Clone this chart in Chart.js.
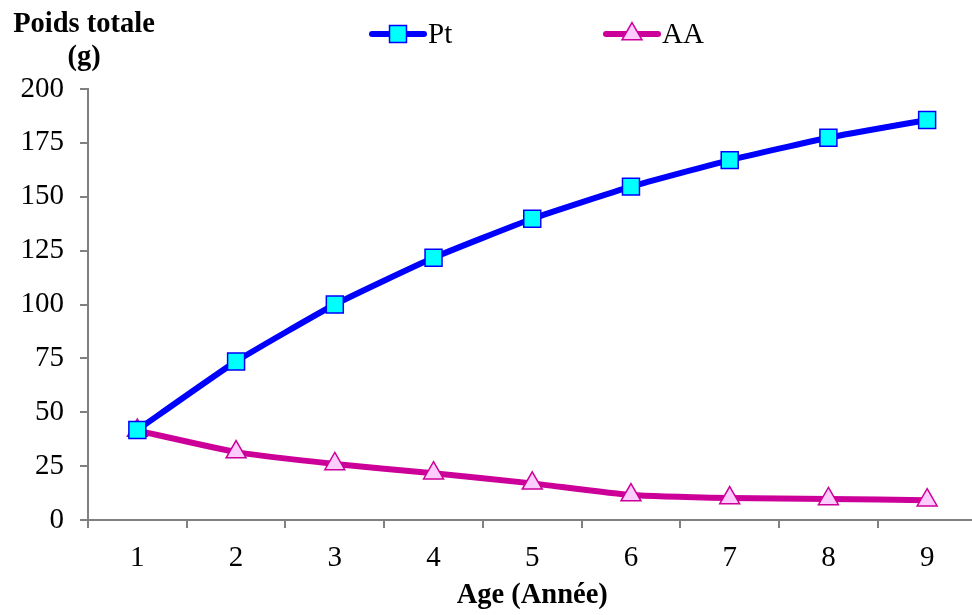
<!DOCTYPE html>
<html>
<head>
<meta charset="utf-8">
<script src="https://cdn.jsdelivr.net/npm/chart.js@4/dist/chart.umd.min.js"></script>
<style>
  html, body { margin: 0; padding: 0; background: #fff; overflow: hidden; }
  #wrap { width: 990px; height: 615px; }
</style>
</head>
<body>
<div id="wrap"><canvas id="myChart" width="990" height="615"></canvas></div>
<script>
const ages = ['1', '2', '3', '4', '5', '6', '7', '8', '9'];
const poidsTotal = [41.8, 73.6, 100, 121.7, 139.8, 154.7, 167, 177.4, 185.6];
const valeursAA = [41.5, 31.5, 26, 21.7, 17, 11.6, 10.2, 9.8, 9.2];
const yTicks = [0, 25, 50, 75, 100, 125, 150, 175, 200];

const serif = "'Liberation Serif', 'Times New Roman', serif";
const axisGray = '#808080';

// two-line unit label above the y axis
const yLabel = {
  id: 'yLabel',
  afterDraw(chart) {
    const ctx = chart.ctx;
    ctx.save();
    ctx.fillStyle = '#000';
    ctx.font = 'bold 28.5px ' + serif;
    ctx.textAlign = 'center';
    ctx.textBaseline = 'alphabetic';
    ctx.fillText('Poids totale', 84, 32);
    ctx.fillText('(g)', 84, 65);
    ctx.restore();
  }
};

// legend entries drawn as line + marker, like the series themselves
const lineLegend = {
  id: 'lineLegend',
  afterDraw(chart) {
    const ctx = chart.ctx;
    const centers = [398, 632];
    chart.data.datasets.forEach((ds, i) => {
      const cx = centers[i], cy = 34;
      ctx.save();
      ctx.strokeStyle = ds.borderColor;
      ctx.lineWidth = ds.borderWidth;
      ctx.lineCap = 'round';
      ctx.beginPath();
      ctx.moveTo(cx - 26, cy);
      ctx.lineTo(cx + 26, cy);
      ctx.stroke();
      ctx.fillStyle = ds.pointBackgroundColor;
      ctx.strokeStyle = ds.pointBorderColor;
      ctx.lineWidth = ds.pointBorderWidth;
      Chart.helpers.drawPoint(ctx, {
        pointStyle: ds.pointStyle,
        radius: ds.pointRadius,
        rotation: 0,
        borderWidth: ds.pointBorderWidth
      }, cx, cy);
      ctx.fillStyle = '#000';
      ctx.font = '29px ' + serif;
      ctx.textAlign = 'left';
      ctx.textBaseline = 'middle';
      ctx.fillText(ds.label, cx + 30, cy + 1);
      ctx.restore();
    });
  }
};

new Chart(document.getElementById('myChart'), {
  type: 'line',
  data: {
    labels: ages,
    datasets: [
      {
        label: 'Pt',
        data: poidsTotal,
        borderColor: '#0000FF',
        borderWidth: 6,
        pointStyle: 'rect',
        pointRadius: 12,
        pointBackgroundColor: '#00FFFF',
        pointBorderColor: '#0000FF',
        pointBorderWidth: 1.5,
        tension: 0.15
      },
      {
        label: 'AA',
        data: valeursAA,
        borderColor: '#CC0099',
        borderWidth: 6,
        pointStyle: 'triangle',
        pointRadius: 11.5,
        pointBackgroundColor: '#FFCCFF',
        pointBorderColor: '#CC0099',
        pointBorderWidth: 1.5,
        tension: 0.15
      }
    ]
  },
  options: {
    responsive: false,
    animation: false,
    layout: { padding: { top: 89, left: 0, right: 2, bottom: 0 } },
    plugins: {
      legend: { display: false },
      tooltip: { enabled: false }
    },
    scales: {
      x: {
        offset: true,
        grid: {
          offset: true,
          drawOnChartArea: false,
          drawTicks: true,
          tickLength: 8,
          color: axisGray,
          lineWidth: 2
        },
        border: { display: true, color: axisGray, width: 2 },
        ticks: { color: '#000', font: { family: serif, size: 29 }, padding: 13 },
        title: {
          display: true,
          text: 'Age (Année)',
          color: '#000',
          font: { family: serif, size: 28.5, weight: 'bold' },
          padding: { top: 0, bottom: 2 }
        },
        afterFit(scale) { scale.height = 95; }
      },
      y: {
        min: 0,
        max: 200,
        afterBuildTicks(scale) { scale.ticks = yTicks.map(v => ({ value: v })); },
        grid: {
          drawOnChartArea: false,
          drawTicks: true,
          tickLength: 8,
          color: axisGray,
          lineWidth: 2
        },
        border: { display: true, color: axisGray, width: 2 },
        ticks: { color: '#000', font: { family: serif, size: 29 }, padding: 16 },
        afterFit(scale) { scale.width = 88; }
      }
    }
  },
  plugins: [yLabel, lineLegend]
});
</script>
</body>
</html>
